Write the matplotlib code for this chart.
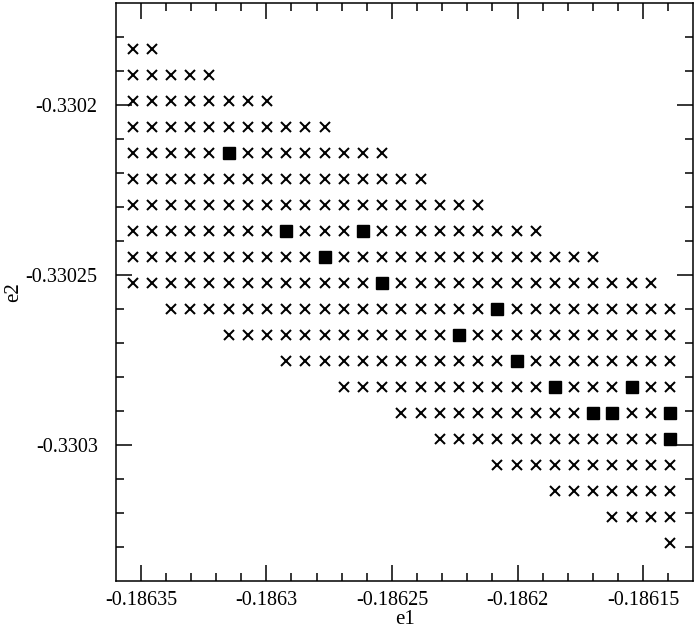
import matplotlib
matplotlib.use("Agg")
import matplotlib.pyplot as plt

# grid coordinates
e1_cols = [-0.1863532, -0.1863456, -0.1863380, -0.1863303, -0.1863227, -0.1863150,
           -0.1863074, -0.1862998, -0.1862921, -0.1862845, -0.1862768, -0.1862692,
           -0.1862616, -0.1862539, -0.1862463, -0.1862386, -0.1862310, -0.1862234,
           -0.1862157, -0.1862081, -0.1862004, -0.1861928, -0.1861852, -0.1861775,
           -0.1861699, -0.1861622, -0.1861546, -0.1861470, -0.1861393]
e2_rows = [-0.3301836, -0.3301912, -0.3301989, -0.3302065, -0.3302142, -0.3302218,
           -0.3302294, -0.3302371, -0.3302447, -0.3302523, -0.3302600, -0.3302676,
           -0.3302753, -0.3302829, -0.3302905, -0.3302982, -0.3303058, -0.3303135,
           -0.3303211, -0.3303287]
# first and last column index occupied in each row
row_start = [0, 0, 0, 0, 0, 0, 0, 0, 0, 0, 2, 5, 8, 11, 14, 16, 19, 22, 25, 28]
row_end = [1, 4, 7, 10, 13, 15, 18, 21, 24, 27, 28, 28, 28, 28, 28, 28, 28, 28, 28, 28]
# filled-square points (row index, column index)
square_pts = [(4, 5), (7, 8), (7, 12), (8, 10), (9, 13), (10, 19), (11, 17), (12, 20),
              (13, 22), (13, 26), (14, 24), (14, 25), (14, 28), (15, 28)]

x_ticks = [-0.18635, -0.1863, -0.18625, -0.1862, -0.18615]
x_labels = ["-0.18635", "-0.1863", "-0.18625", "-0.1862", "-0.18615"]
y_ticks = [-0.3302, -0.33025, -0.3303]
y_labels = ["-0.3302", "-0.33025", "-0.3303"]

plt.rcParams['font.family'] = ['Liberation Serif', 'DejaVu Serif']

fig = plt.figure(figsize=(6.97, 6.32), dpi=100)
ax = fig.add_axes([0.166, 0.0807, 0.9947 - 0.166, 0.9957 - 0.0807])

sq = set(square_pts)
xs, ys = [], []
for r, (s, e) in enumerate(zip(row_start, row_end)):
    for c in range(s, e + 1):
        if (r, c) not in sq:
            xs.append(e1_cols[c])
            ys.append(e2_rows[r])
ax.plot(xs, ys, linestyle='none', marker='x', markersize=7.0, markeredgewidth=1.45,
        color='black')
ax.plot([e1_cols[c] for r, c in square_pts], [e2_rows[r] for r, c in square_pts],
        linestyle='none', marker='s', markersize=8.5, color='black')

ax.set_xlim(-0.18636, -0.18613)
ax.set_ylim(-0.33034, -0.33017)
ax.set_xticks(x_ticks)
ax.set_xticklabels(x_labels)
ax.set_yticks(y_ticks)
ax.set_yticklabels(y_labels)
ax.set_xticks([-0.18636 + 0.00001 * k for k in range(1, 23)], minor=True)
ax.set_yticks([-0.33034 + 0.00001 * k for k in range(1, 17)], minor=True)

ax.tick_params(which='both', direction='in', top=True, right=True, width=1.1,
               labelsize=14.5)
ax.tick_params(which='major', length=11.5)
ax.tick_params(which='minor', length=5.8)
ax.tick_params(axis='x', which='major', pad=7.5)
ax.tick_params(axis='y', which='major', pad=13)
for sp in ax.spines.values():
    sp.set_linewidth(1.1)

ax.set_xlabel("e1", fontsize=15, labelpad=0)
ax.set_ylabel("e2", fontsize=15, labelpad=2)

fig.savefig("out.png", dpi=100)
